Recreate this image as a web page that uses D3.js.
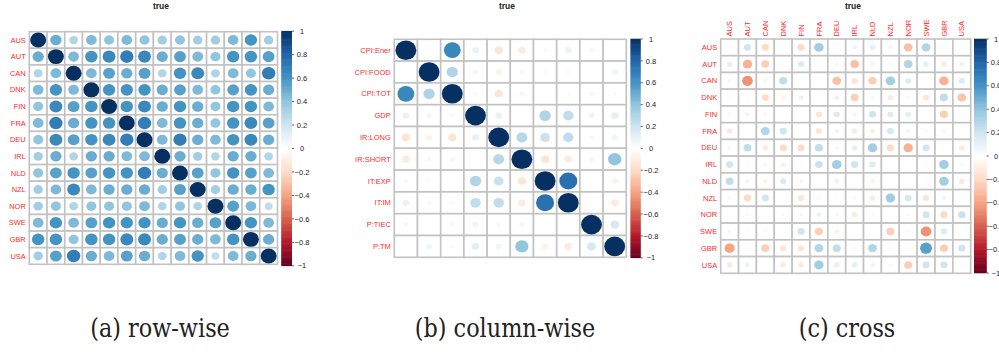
<!DOCTYPE html>
<html>
<head>
<meta charset="utf-8">
<script src="https://cdn.jsdelivr.net/npm/d3@7"></script>
<style>
  html, body { margin: 0; padding: 0; background: #fff; }
  svg { display: block; }
  text.caption { font-family: "DejaVu Serif", "Liberation Serif", "Times New Roman", Times, serif; }
</style>
</head>
<body>
<svg id="chart" width="999" height="353"></svg>
<script>
// Country codes shared by the row-wise and cross panels
const countries = ["AUS", "AUT", "CAN", "DNK", "FIN", "FRA", "DEU", "IRL", "NLD", "NZL", "NOR", "SWE", "GBR", "USA"];

// (a) row-wise correlations between countries
const rowWiseValues = [
  [1.00, 0.50, 0.30, 0.45, 0.40, 0.45, 0.40, 0.35, 0.40, 0.35, 0.35, 0.45, 0.60, 0.35],
  [0.50, 1.00, 0.45, 0.60, 0.65, 0.70, 0.65, 0.50, 0.55, 0.45, 0.40, 0.60, 0.60, 0.55],
  [0.30, 0.45, 1.00, 0.45, 0.55, 0.50, 0.55, 0.30, 0.60, 0.65, 0.30, 0.45, 0.40, 0.70],
  [0.45, 0.60, 0.45, 1.00, 0.60, 0.60, 0.60, 0.50, 0.55, 0.45, 0.40, 0.55, 0.60, 0.50],
  [0.40, 0.65, 0.55, 0.60, 1.00, 0.60, 0.65, 0.50, 0.60, 0.50, 0.40, 0.60, 0.60, 0.45],
  [0.45, 0.70, 0.50, 0.60, 0.60, 1.00, 0.70, 0.45, 0.60, 0.50, 0.40, 0.60, 0.65, 0.55],
  [0.40, 0.65, 0.55, 0.60, 0.65, 0.70, 1.00, 0.45, 0.70, 0.50, 0.45, 0.60, 0.65, 0.50],
  [0.35, 0.50, 0.30, 0.50, 0.50, 0.45, 0.45, 1.00, 0.50, 0.35, 0.30, 0.50, 0.50, 0.30],
  [0.40, 0.55, 0.60, 0.55, 0.60, 0.60, 0.70, 0.50, 1.00, 0.55, 0.40, 0.60, 0.55, 0.45],
  [0.35, 0.45, 0.65, 0.45, 0.50, 0.50, 0.50, 0.35, 0.55, 1.00, 0.35, 0.50, 0.50, 0.60],
  [0.35, 0.40, 0.30, 0.40, 0.40, 0.40, 0.45, 0.30, 0.40, 0.30, 1.00, 0.55, 0.45, 0.25],
  [0.45, 0.60, 0.45, 0.55, 0.60, 0.60, 0.60, 0.50, 0.60, 0.50, 0.55, 1.00, 0.60, 0.45],
  [0.60, 0.60, 0.40, 0.60, 0.60, 0.65, 0.65, 0.50, 0.55, 0.50, 0.45, 0.60, 1.00, 0.50],
  [0.35, 0.55, 0.70, 0.50, 0.45, 0.55, 0.50, 0.30, 0.45, 0.60, 0.25, 0.45, 0.50, 1.00]
];

// (b) column-wise correlations between indicators
const indicators = ["CPI:Ener", "CPI:FOOD", "CPI:TOT", "GDP", "IR:LONG", "IR:SHORT", "IT:EXP", "IT:IM", "P:TIEC", "P:TM"];
const columnWiseValues = [
  [ 1.00,  0.02,  0.65,  0.10, -0.15, -0.12,  0.04,  0.10, -0.05,  0.01],
  [ 0.02,  1.00,  0.30,  0.06, -0.08,  0.05,  0.03,  0.04,  0.01,  0.08],
  [ 0.65,  0.30,  1.00,  0.04, -0.15, -0.06,  0.01,  0.03, -0.05,  0.04],
  [ 0.10,  0.06,  0.04,  1.00,  0.10,  0.01,  0.30,  0.25,  0.08,  0.12],
  [-0.15, -0.08, -0.15,  0.10,  1.00,  0.28,  0.22,  0.25, -0.05,  0.08],
  [-0.12,  0.05,  0.06,  0.01,  0.28,  1.00, -0.15, -0.12,  0.06,  0.40],
  [ 0.04,  0.03,  0.01,  0.30,  0.22, -0.15,  1.00,  0.75,  0.01, -0.08],
  [ 0.10,  0.04,  0.03,  0.25,  0.25, -0.12,  0.75,  1.00,  0.01, -0.12],
  [-0.05,  0.01, -0.05,  0.08, -0.05,  0.06,  0.01,  0.01,  1.00,  0.18],
  [ 0.01,  0.08,  0.04,  0.12,  0.08,  0.40, -0.08, -0.12,  0.18,  1.00]
];

// (c) cross correlations, rows and columns are both countries
const crossValues = [
  [ 0.01,  0.20, -0.20,  0.01, -0.20,  0.35,  0.00,  0.08,  0.12, -0.06, -0.30,  0.30,  0.03,  0.01],
  [-0.12, -0.35, -0.25,  0.03,  0.15,  0.00, -0.06, -0.30, -0.08,  0.06,  0.30,  0.12, -0.12,  0.10],
  [ 0.06, -0.45,  0.07,  0.25,  0.01, -0.02, -0.30, -0.15, -0.25,  0.35,  0.15, -0.02, -0.35,  0.15],
  [-0.03,  0.03, -0.20, -0.08,  0.10,  0.02, -0.10, -0.25,  0.06, -0.12,  0.04, -0.15,  0.25, -0.28],
  [-0.04, -0.08, -0.06,  0.01,  0.02, -0.15,  0.15, -0.08,  0.20,  0.15,  0.12,  0.02, -0.25,  0.00],
  [-0.12,  0.00,  0.30,  0.20,  0.00, -0.15, -0.08, -0.12, -0.10,  0.18,  0.07,  0.04, -0.05,  0.02],
  [-0.06,  0.25, -0.12, -0.20, -0.20,  0.25,  0.06,  0.12,  0.35, -0.20, -0.35,  0.20, -0.03, -0.12],
  [ 0.20, -0.04, -0.06, -0.10, -0.03,  0.22,  0.35,  0.20,  0.15, -0.02, -0.01,  0.04,  0.35, -0.06],
  [ 0.25,  0.07, -0.08,  0.15, -0.06, -0.01, -0.10,  0.01, -0.08,  0.02, -0.03,  0.03,  0.35, -0.12],
  [ 0.05, -0.20,  0.20,  0.00, -0.15,  0.04, -0.03, -0.05, -0.12,  0.35,  0.18, -0.15,  0.08,  0.00],
  [ 0.02,  0.04,  0.02, -0.04,  0.06,  0.10,  0.06, -0.12,  0.03,  0.01,  0.04,  0.20, -0.20,  0.22],
  [ 0.05,  0.03, -0.04,  0.01,  0.20, -0.25, -0.08,  0.01,  0.01, -0.25,  0.04, -0.45,  0.15,  0.01],
  [-0.40,  0.03, -0.25, -0.15, -0.15,  0.30,  0.25, -0.04,  0.30,  0.05, -0.03,  0.55, -0.25,  0.20],
  [-0.12,  0.10, -0.02, -0.12, -0.12,  0.35, -0.12,  0.12,  0.08, -0.04, -0.25,  0.20,  0.20,  0.04]
];

// Colour legend ticks and the diverging red-white-blue palette
const legendTicks = [1, 0.8, 0.6, 0.4, 0.2, 0, -0.2, -0.4, -0.6, -0.8, -1];
const paletteStops = ["#67001F", "#B2182B", "#D6604D", "#F4A582", "#FDDBC7", "#FFFFFF",
                      "#D1E5F0", "#92C5DE", "#4393C3", "#2166AC", "#053061"];

const titles = ["true", "true", "true"];
const captions = ["(a) row-wise", "(b) column-wise", "(c) cross"];

const color = d3.scaleLinear()
  .domain(d3.range(paletteStops.length).map(i => -1 + 2 * i / (paletteStops.length - 1)))
  .range(paletteStops)
  .interpolate(d3.interpolateRgb);

const svg = d3.select("#chart");
const labelFont = "'Liberation Sans', Arial, sans-serif";

const panels = [
  { rows: countries, cols: countries, values: rowWiseValues, title: titles[0], caption: captions[0],
    grid: [29.3, 277.5, 31.7, 264.3], bar: [281.3, 292, 31.2, 265.8], titleX: 161, captionX: 160, topLabels: false, tickX: 302 },
  { rows: indicators, cols: indicators, values: columnWiseValues, title: titles[1], caption: captions[1],
    grid: [394.3, 626.3, 39.3, 257.3], bar: [630.5, 640.7, 39.0, 257.8], titleX: 507, captionX: 505, topLabels: false, tickX: 651 },
  { rows: countries, cols: countries, values: crossValues, title: titles[2], caption: captions[2],
    grid: [720.7, 970.7, 39.0, 273.3], bar: [974.0, 986.7, 39.0, 273.0], titleX: 853, captionX: 847, topLabels: true, tickX: 996 }
];

panels.forEach(p => {
  const [gx0, gx1, gy0, gy1] = p.grid;
  const x = d3.scaleBand().domain(p.cols).range([gx0, gx1]);
  const y = d3.scaleBand().domain(p.rows).range([gy0, gy1]);
  const g = svg.append("g");

  const cells = [];
  p.rows.forEach((r, i) => p.cols.forEach((c, j) => cells.push({ r, c, v: p.values[i][j] })));

  // grid cells
  g.selectAll("rect.cell").data(cells).join("rect")
    .attr("class", "cell")
    .attr("x", d => x(d.c)).attr("y", d => y(d.r))
    .attr("width", x.bandwidth()).attr("height", y.bandwidth())
    .attr("fill", "#fff").attr("stroke", "#c2c2c2").attr("stroke-width", 1.6);

  // circles whose area follows |r|
  g.selectAll("ellipse").data(cells.filter(d => Math.abs(d.v) > 0)).join("ellipse")
    .attr("cx", d => x(d.c) + x.bandwidth() / 2)
    .attr("cy", d => y(d.r) + y.bandwidth() / 2)
    .attr("rx", d => 0.45 * x.bandwidth() * Math.sqrt(Math.abs(d.v)))
    .attr("ry", d => 0.45 * y.bandwidth() * Math.sqrt(Math.abs(d.v)))
    .attr("fill", d => color(d.v));

  // row labels
  g.selectAll("text.row").data(p.rows).join("text")
    .attr("class", "row")
    .attr("x", gx0 - 3.5)
    .attr("y", d => y(d) + y.bandwidth() / 2)
    .attr("dy", "0.35em")
    .attr("text-anchor", "end")
    .attr("font-family", labelFont).attr("font-size", 7.5)
    .attr("fill", "#ff2a2a")
    .text(d => d);

  // column labels along the top, rotated
  if (p.topLabels) {
    g.selectAll("text.col").data(p.cols).join("text")
      .attr("class", "col")
      .attr("transform", d => `translate(${x(d) + x.bandwidth() / 2},${gy0 - 2.5}) rotate(-90)`)
      .attr("dy", "0.35em")
      .attr("text-anchor", "start")
      .attr("font-family", labelFont).attr("font-size", 7.5)
      .attr("fill", "#ff2a2a")
      .text(d => d);
  }

  // colour bar
  const [bx0, bx1, by0, by1] = p.bar;
  const yBar = d3.scaleLinear().domain([-1, 1]).range([by1, by0]);
  const steps = d3.range(200).map(i => -1 + 2 * i / 200);
  g.selectAll("rect.bar").data(steps).join("rect")
    .attr("class", "bar")
    .attr("x", bx0).attr("width", bx1 - bx0)
    .attr("y", d => yBar(d + 2 / 200) - 0.3)
    .attr("height", d => yBar(d) - yBar(d + 2 / 200) + 0.6)
    .attr("fill", d => color(d + 1 / 200));

  g.selectAll("line.tick").data(legendTicks).join("line")
    .attr("class", "tick")
    .attr("x1", bx1).attr("x2", bx1 + 2)
    .attr("y1", d => yBar(d)).attr("y2", d => yBar(d))
    .attr("stroke", "#333").attr("stroke-width", 0.8);

  g.selectAll("text.tick").data(legendTicks).join("text")
    .attr("class", "tick")
    .attr("x", p.tickX)
    .attr("y", d => yBar(d))
    .attr("dy", "0.35em")
    .attr("text-anchor", "middle")
    .attr("font-family", labelFont).attr("font-size", 7.5)
    .attr("fill", "#222")
    .text(d => d3.format("")(d));

  // title
  g.append("text")
    .attr("x", p.titleX).attr("y", 8.5)
    .attr("text-anchor", "middle")
    .attr("font-family", labelFont).attr("font-size", 8.5).attr("font-weight", "bold")
    .attr("fill", "#222")
    .text(p.title);

  // caption, set in a tall, slightly condensed serif
  svg.append("text")
    .attr("class", "caption")
    .attr("transform", `translate(${p.captionX},337) scale(0.86,1)`)
    .attr("text-anchor", "middle")
    .attr("font-size", 26)
    .attr("fill", "#222")
    .text(p.caption);
});
</script>
</body>
</html>
